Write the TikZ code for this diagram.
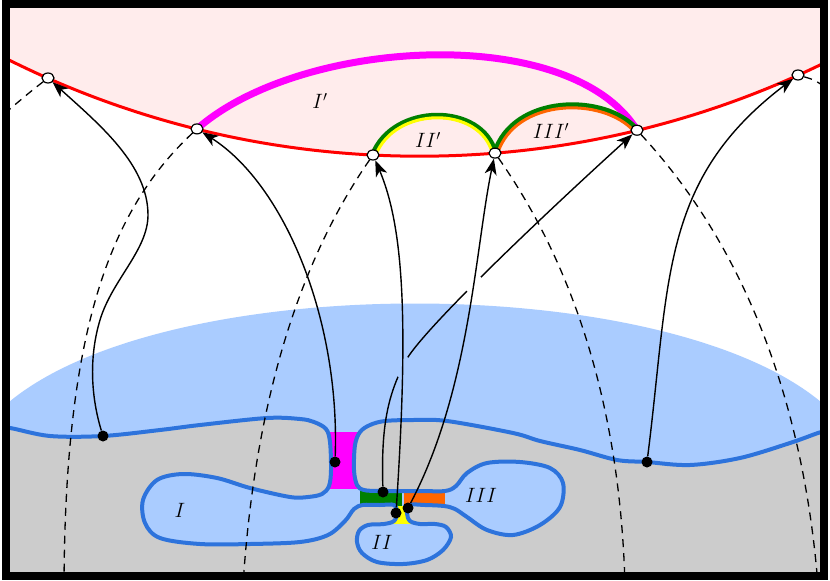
\documentclass[tikz,border=0pt]{standalone}
\usetikzlibrary{arrows.meta,shapes.geometric,intersections}
\definecolor{pinkbg}{RGB}{255,236,236}
\definecolor{lblue}{RGB}{170,204,255}
\definecolor{oblue}{RGB}{45,115,220}
\definecolor{grayr}{RGB}{204,204,204}
\definecolor{dgreen}{RGB}{0,128,0}
\definecolor{orng}{RGB}{255,102,0}
\definecolor{mgnt}{RGB}{255,0,255}
\definecolor{yllw}{RGB}{255,255,0}
\begin{document}
\begin{tikzpicture}[x=1pt,y=-1pt,
  wpt/.style={ellipse,draw=black,fill=white,line width=1.2pt,minimum width=12pt,minimum height=10pt,inner sep=0pt},
  bpt/.style={circle,fill=black,minimum size=11pt,inner sep=0pt},
  arr/.style={line width=1.4pt,-{Stealth[length=16pt,width=12pt,inset=4.5pt]}},
  dsh/.style={line width=1.3pt,dash pattern=on 8pt off 6pt},
  lbl/.style={font=\fontsize{20}{24}\selectfont},
  outl/.style={fill=grayr,draw=oblue,line width=4pt}
]
\useasboundingbox (0,0) rectangle (830,581);
\begin{scope}
\clip (10,8) rectangle (820,572);
\fill[white] (0,0) rectangle (830,581);
% boundary circle
\fill[pinkbg] (419.6,-766.2) circle (922.4pt);
\draw[red,line width=3pt] (419.6,-766.2) circle (922.4pt);
% big blue region
\fill[lblue] (0,410) .. controls (150,268) and (680,268) .. (830,410) -- (830,600) -- (0,600) -- cycle;
% bands
\fill[mgnt] (322,432) rectangle (365,488.5);
\fill[dgreen] (360,488) rectangle (402,508);
\fill[orng] (403.5,488) rectangle (445,508);
\fill[yllw] (388,505.5) rectangle (416,523.5);
% gray surface with blue outline
\path[outl] plot[smooth,tension=0.55] coordinates {
(-5,428) (10,428) (50,436) (103,436) (160,430) (200,425) (267,418) (300,419)
(314,422) (326,429) (330,442) (331,470) (329,486) (322,494) (308,497) (290,497)
(250,488) (217,478) (183,474) (157,480) (143,500) (145,523) (160,538) (200,544)
(250,544) (300,542) (328,535) (345,521) (354,509) (363,505) (380,505) (394,505)
(397,513) (394,521) (384,524) (368,525) (359,531) (357,542) (362,553) (377,562)
(403,564) (427,560) (443,550) (451,537) (446,527) (435,524) (420,524) (410,521)
(407,513) (410,505) (425,505) (444,506) (455,509) (467,517) (487,530) (513,535)
(540,525) (560,507) (563,483) (550,468) (520,462) (487,463) (467,473) (456,486)
(445,491) (420,491) (380,491) (364,490) (357,485) (354,470) (355,445) (360,432) (370,425)
(385,421) (413,420) (447,421) (513,433) (540,441) (580,450) (617,460) (647,462)
(690,465) (740,458) (790,443) (818,433) (835,428)}
 -- (835,600) -- (-5,600) -- cycle;
% arcs on the boundary
\draw[mgnt,line width=7pt] (197,128.9) .. controls (300,38) and (570,22) .. (637,130.2);
\draw[dgreen,line width=6pt] (373,155) .. controls (393,103) and (482,103) .. (495,153.1);
\draw[yllw,line width=3pt] (375.5,155.5) .. controls (395,105.5) and (480,105.5) .. (492.5,153.6);
\draw[dgreen,line width=6pt] (495,153.1) .. controls (513,95) and (605,93) .. (637,130.2);
\draw[orng,line width=3pt] (497.5,153.6) .. controls (515,98) and (603,96) .. (634.5,131.7);
% points
\node[wpt] (w1) at (48,78) {};
\node[wpt] (w2) at (197,128.9) {};
\node[wpt] (w3) at (373,155) {};
\node[wpt] (w4) at (495,153.1) {};
\node[wpt] (w5) at (637,130.2) {};
\node[wpt] (w6) at (798,75) {};
\node[bpt] (d1) at (103,436) {};
\node[bpt] (d2) at (335,462) {};
\node[bpt] (d3) at (383,492) {};
\node[bpt] (d4) at (396,513) {};
\node[bpt] (d5) at (408,508) {};
\node[bpt] (d6) at (647,462) {};
\coordinate (e1) at (4,114);
\coordinate (e2) at (64,585);
\coordinate (e3) at (243,585);
\coordinate (e4) at (625,585);
\coordinate (e5) at (818,585);
\coordinate (e6) at (832,92);
% dashed geodesics
\draw[dsh] (w1) .. controls (30,92) .. (e1);
\draw[dsh] (w2) .. controls (110,210) and (65,330) .. (e2);
\draw[dsh] (w3) .. controls (300,260) and (255,400) .. (e3);
\draw[dsh] (w4) .. controls (570,260) and (620,400) .. (e4);
\draw[dsh] (w5) .. controls (720,220) and (800,360) .. (e5);
\draw[dsh] (w6) .. controls (815,80) .. (e6);
% arrows
\draw[arr] (d1) .. controls (92,400) and (88,360) .. (100,320) .. controls (112,280) and (148,250) .. (148,215) .. controls (148,165) and (100,125) .. (w1);
\draw[arr] (d2) .. controls (340,320) and (285,185) .. (w2);
\draw[arr,name path=c4] (d4) .. controls (408,330) and (405,230) .. (w3);
\draw[arr,name path=c5] (d5) .. controls (470,390) and (475,250) .. (w4);
\draw[arr] (d6) .. controls (670,280) and (660,180) .. (w6);
\path[name path=c3] (d3) .. controls (381,425) and (388,395) .. (405,362) .. controls (422,329) and (560,200) .. (w5);
\path[name intersections={of=c3 and c4,by={x1}}];
\path[name intersections={of=c3 and c5,by={x2}}];
\begin{scope}[even odd rule]
\clip (0,0) rectangle (830,581) (x1) circle (11pt) (x2) circle (10pt);
\draw[arr] (d3) .. controls (381,425) and (388,395) .. (405,362) .. controls (422,329) and (560,200) .. (w5);
\end{scope}
% labels
\node[lbl] (l1) at (320,101) {$I'$};
\node[lbl] (l2) at (428,140) {$II'$};
\node[lbl] (l3) at (551,131) {$III'$};
\node[lbl] (l4) at (180,510) {$I$};
\node[lbl] (l5) at (382,542) {$II$};
\node[lbl] (l6) at (481,495) {$III$};
\end{scope}
\draw[line width=8pt] (6,4) rectangle (824,576);
\end{tikzpicture}
\end{document}
